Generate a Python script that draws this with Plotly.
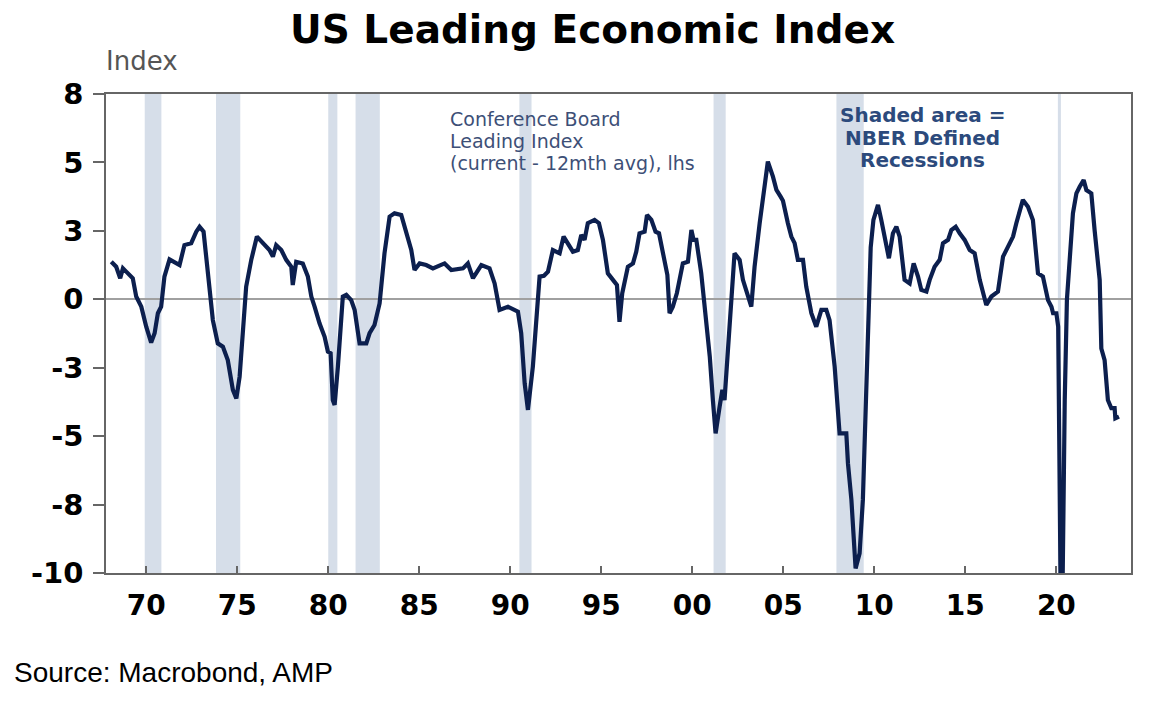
import plotly.graph_objects as go

# ---- data ----
years = [1968.08, 1968.35, 1968.57, 1968.72, 1968.90, 1969.26, 1969.45, 1969.73, 1970.00, 1970.27,
         1970.46, 1970.64, 1970.82, 1971.00, 1971.28, 1971.83, 1972.10, 1972.47, 1972.75, 1972.93,
         1973.15, 1973.48, 1973.66, 1973.93, 1974.21, 1974.48, 1974.76, 1974.95, 1975.13, 1975.49,
         1975.77, 1976.08, 1976.41, 1976.77, 1976.96, 1977.14, 1977.42, 1977.69, 1977.97, 1978.05,
         1978.24, 1978.60, 1978.88, 1979.07, 1979.25, 1979.52, 1979.80, 1979.98, 1980.13, 1980.25,
         1980.35, 1980.53, 1980.80, 1980.99, 1981.26, 1981.45, 1981.72, 1982.09, 1982.27, 1982.54,
         1982.82, 1983.09, 1983.37, 1983.64, 1984.01, 1984.29, 1984.56, 1984.74, 1985.02, 1985.38,
         1985.75, 1986.39, 1986.76, 1987.40, 1987.67, 1987.95, 1988.41, 1988.86, 1989.14, 1989.41,
         1989.87, 1990.42, 1990.60, 1990.79, 1990.97, 1991.24, 1991.61, 1991.85, 1992.07, 1992.34,
         1992.71, 1992.93, 1993.17, 1993.44, 1993.71, 1993.90, 1994.08, 1994.26, 1994.63, 1994.87,
         1995.09, 1995.36, 1995.64, 1995.86, 1996.00, 1996.15, 1996.46, 1996.74, 1996.92, 1997.10,
         1997.38, 1997.51, 1997.75, 1997.98, 1998.17, 1998.42, 1998.63, 1998.75, 1998.93, 1999.15,
         1999.48, 1999.76, 1999.95, 2000.07, 2000.22, 2000.49, 2000.68, 2000.96, 2001.13, 2001.28,
         2001.50, 2001.65, 2001.77, 2002.01, 2002.32, 2002.60, 2002.78, 2003.24, 2003.42, 2003.70,
         2003.97, 2004.15, 2004.43, 2004.62, 2004.85, 2004.98, 2005.25, 2005.44, 2005.62, 2005.80,
         2006.08, 2006.26, 2006.54, 2006.81, 2007.09, 2007.36, 2007.54, 2007.73, 2007.82, 2008.09,
         2008.46, 2008.55, 2008.74, 2008.97, 2009.19, 2009.37, 2009.56, 2009.70, 2009.80, 2009.95,
         2010.20, 2010.38, 2010.62, 2010.80, 2011.02, 2011.21, 2011.39, 2011.66, 2011.94, 2012.16,
         2012.40, 2012.58, 2012.86, 2013.04, 2013.31, 2013.59, 2013.77, 2014.05, 2014.23, 2014.47,
         2014.69, 2014.96, 2015.24, 2015.51, 2015.79, 2016.01, 2016.15, 2016.43, 2016.79, 2017.07,
         2017.34, 2017.62, 2017.80, 2018.16, 2018.44, 2018.71, 2018.99, 2019.26, 2019.54, 2019.73,
         2019.82, 2020.00, 2020.10, 2020.28, 2020.46, 2020.58, 2020.91, 2021.10, 2021.28, 2021.50,
         2021.65, 2021.92, 2022.10, 2022.38, 2022.47, 2022.65, 2022.83, 2023.02, 2023.20, 2023.24,
         2023.44]
lei = [1.37, 1.19, 0.77, 1.13, 1.01, 0.77, 0.10, -0.27, -1.00, -1.58,
       -1.24, -0.51, -0.27, 0.83, 1.46, 1.25, 1.98, 2.05, 2.47, 2.65,
       2.47, 0.58, -0.76, -1.61, -1.73, -2.22, -3.31, -3.62, -2.83, 0.46,
       1.44, 2.29, 2.05, 1.80, 1.56, 1.98, 1.80, 1.44, 1.19, 0.52,
       1.37, 1.31, 0.83, 0.10, -0.27, -0.88, -1.37, -1.91, -1.97, -3.68,
       -3.86, -2.46, 0.10, 0.16, -0.03, -0.39, -1.61, -1.61, -1.24, -0.94,
       -0.15, 1.68, 3.02, 3.14, 3.08, 2.41, 1.80, 1.07, 1.31, 1.25,
       1.13, 1.31, 1.07, 1.13, 1.31, 0.77, 1.25, 1.13, 0.58, -0.39,
       -0.27, -0.45, -1.24, -3.07, -4.04, -2.46, 0.83, 0.86, 1.01, 1.80,
       1.68, 2.29, 2.05, 1.74, 1.80, 2.35, 2.17, 2.78, 2.90, 2.78,
       2.17, 0.95, 0.71, 0.52, -0.82, 0.22, 1.19, 1.31, 1.74, 2.41,
       2.47, 3.08, 2.90, 2.47, 2.41, 1.62, 0.89, -0.51, -0.27, 0.22,
       1.31, 1.37, 2.53, 2.17, 2.17, 0.95, -0.27, -2.10, -3.68, -4.90,
       -3.92, -3.31, -3.68, -1.49, 1.68, 1.44, 0.71, -0.27, 1.19, 2.78,
       4.00, 5.03, 4.48, 4.00, 3.75, 3.60, 2.78, 2.29, 2.05, 1.44,
       1.44, 0.46, -0.51, -1.00, -0.39, -0.39, -0.76, -1.73, -2.46, -4.90,
       -4.90, -5.99, -7.33, -9.83, -9.28, -7.33, -3.68, 0.00, 1.90, 2.90,
       3.45, 2.90, 2.05, 1.50, 2.41, 2.65, 2.29, 0.71, 0.58, 1.31,
       0.83, 0.34, 0.28, 0.71, 1.19, 1.44, 2.05, 2.17, 2.53, 2.65,
       2.41, 2.17, 1.80, 1.68, 0.71, 0.22, -0.21, 0.10, 0.28, 1.56,
       1.92, 2.29, 2.78, 3.63, 3.38, 2.90, 0.95, 0.83, -0.03, -0.27,
       -0.51, -0.51, -1.00, -14.0, -3.68, 0.00, 3.14, 3.87, 4.11, 4.36,
       3.99, 3.87, 2.53, 0.71, -1.80, -2.22, -3.68, -3.98, -3.98, -4.35,
       -4.29]

rec_start = [1969.917, 1973.833, 1980.000, 1981.500, 1990.500, 2001.167, 2007.917, 2020.083]
rec_end = [1970.833, 1975.167, 1980.500, 1982.833, 1991.167, 2001.833, 2009.417, 2020.250]

x_tickvals = [1970, 1975, 1980, 1985, 1990, 1995, 2000, 2005, 2010, 2015, 2020]
x_ticktext = ["70", "75", "80", "85", "90", "95", "00", "05", "10", "15", "20"]
y_tickvals = [7.5, 5, 2.5, 0, -2.5, -5, -7.5, -10]
y_ticktext = ["8", "5", "3", "0", "-3", "-5", "-8", "-10"]

BOLD = "DejaVu Sans"
NAVY = "#0c1f4e"
OFF = 8  # page body margin of the html page

W, H = 1161 - 2 * OFF, 711 - 2 * OFF
ML, MT = 106 - OFF, 94 - OFF
MR, MB = 1161 - 1131 - OFF, 711 - 573 - OFF

fig = go.Figure()
fig.add_trace(go.Scatter(x=years, y=lei, mode="lines",
                         line=dict(color=NAVY, width=4.2), showlegend=False,
                         hoverinfo="skip"))

for s, e in zip(rec_start, rec_end):
    fig.add_shape(type="rect", xref="x", yref="paper", x0=s, x1=e, y0=0, y1=1,
                  fillcolor="#d6dee9", line=dict(width=0), layer="below")

fig.update_layout(
    width=W, height=H,
    margin=dict(l=ML, r=MR, t=MT, b=MB, autoexpand=False),
    paper_bgcolor="white", plot_bgcolor="white",
    showlegend=False,
    xaxis=dict(range=[1967.79, 2024.1], tickvals=x_tickvals, ticktext=x_ticktext,
               ticks="inside", ticklen=7, tickwidth=1.5, tickcolor="#666",
               showline=True, linecolor="#666", linewidth=1.5, mirror=True,
               showgrid=False, zeroline=False, ticklabelstandoff=7,
               tickfont=dict(family=BOLD, size=28, color="#000", weight="bold")),
    yaxis=dict(range=[-10, 7.5], tickvals=y_tickvals, ticktext=y_ticktext,
               ticks="outside", ticklen=11, tickwidth=1.5, tickcolor="#666",
               showline=True, linecolor="#666", linewidth=1.5, mirror=True,
               showgrid=False, zeroline=True, zerolinecolor="#a0a0a0", zerolinewidth=2,
               ticklabelstandoff=4,
               tickfont=dict(family=BOLD, size=29, color="#000", weight="bold")),
)

PW, PH = W - ML - MR, H - MT - MB
def px(xp):
    return (xp - OFF - ML) / PW
def py(yp):
    return (H - MB - (yp - OFF)) / PH

ann = []
def add(text, x, y, xanchor, size, color, family=BOLD, bold=False):
    ann.append(dict(text=text, xref="paper", yref="paper", x=px(x), y=py(y),
                    showarrow=False, xanchor=xanchor, yanchor="middle",
                    font=dict(family=family, size=size, color=color,
                              weight="bold" if bold else "normal")))

add("US Leading Economic Index", 592, 30, "center", 39, "#000", bold=True)
add("Index", 104, 61, "left", 26, "#555", family="DejaVu Sans")
add("Source: Macrobond, AMP", 12, 672, "left", 28, "#000", family="Liberation Sans, Arial")

cb_lines = ["Conference Board", "Leading Index", "(current - 12mth avg), lhs"]
for t, yy in zip(cb_lines, [118.5, 140.5, 163]):
    add(t, 448, yy, "left", 19, "#3d4f77", family="DejaVu Sans")
sh_lines = ["Shaded area =", "NBER Defined", "Recessions"]
for t, yy in zip(sh_lines, [115, 137.5, 160]):
    add(t, 922, yy, "center", 20, "#2c4a7c", bold=True)

fig.update_layout(annotations=ann)
fig.write_html("out.html")
